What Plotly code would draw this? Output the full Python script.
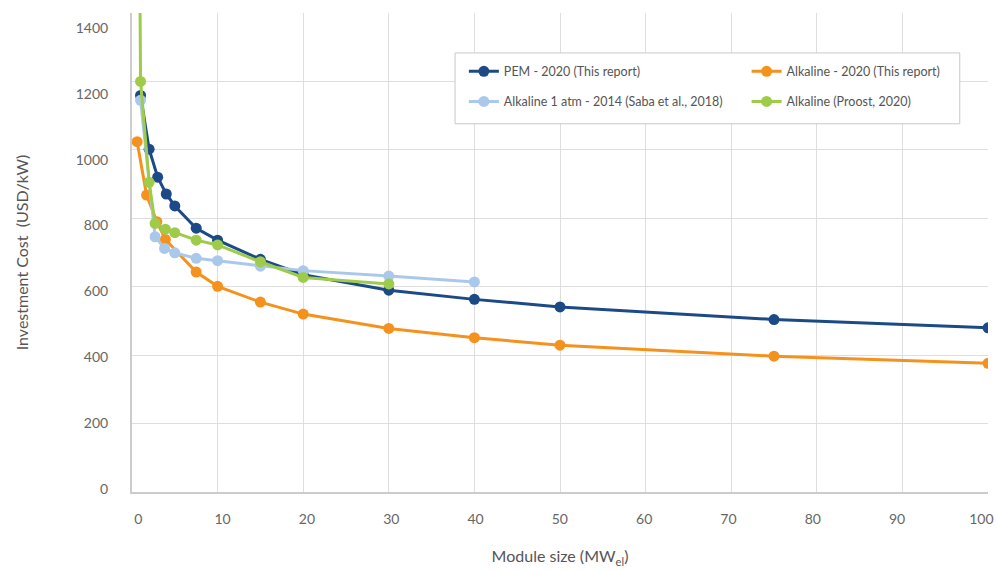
import plotly.graph_objects as go

# ---- data ----
pem_x = [1, 2, 3, 4, 5, 7.5, 10, 15, 20, 30, 40, 50, 75, 100]
pem_y = [1159, 1002, 920, 871, 836, 771, 736, 680, 635, 590, 563, 541, 504, 480]

alk_x = [0.6, 1.7, 2.9, 3.9, 7.5, 10, 15, 20, 30, 40, 50, 75, 100]
alk_y = [1024, 868, 790, 738, 643, 601, 555, 520, 478, 451, 429, 397, 376]

saba_x = [1, 2.7, 3.8, 5, 7.5, 10, 15, 20, 30, 40]
saba_y = [1145, 746, 712, 699, 683, 676, 660, 647, 631, 614]

proost_x = [0.5, 1, 2, 2.7, 3.9, 5, 7.5, 10, 15, 20, 30]
proost_y = [3000, 1200, 905, 785, 768, 758, 736, 722, 673, 627, 608]

names = [
    "PEM - 2020 (This report)",
    "Alkaline - 2020 (This report)",
    "Alkaline 1 atm - 2014 (Saba et al., 2018)",
    "Alkaline (Proost, 2020)",
]
colors = ["#1b4a86", "#f5921e", "#aac9ea", "#9fcb4b"]

x_ticks = list(range(0, 101, 10))
y_ticks = list(range(0, 1401, 200))

FONT = "Lato, 'Open Sans', sans-serif"
fig = go.Figure()

def add(x, y, name, color, legend):
    fig.add_trace(go.Scatter(
        x=x, y=y, name=name, mode="lines+markers",
        line=dict(color=color, width=3),
        marker=dict(color=color, size=11),
        legend=legend,
    ))

# drawing order: orange, PEM, light blue, green on top
add(alk_x, alk_y, names[1], colors[1], "legend2")
add(pem_x, pem_y, names[0], colors[0], "legend")
add(saba_x, saba_y, names[2], colors[2], "legend3")
add(proost_x, proost_y, names[3], colors[3], "legend4")

# invisible trace to activate the label axes
fig.add_trace(go.Scatter(x=[None], y=[None], xaxis="x2", yaxis="y2",
                         showlegend=False, hoverinfo="skip"))

grid = "#dedede"
fig.update_layout(
    width=997, height=570,
    margin=dict(l=132, r=9, t=13, b=78, autoexpand=False),
    paper_bgcolor="white", plot_bgcolor="white",
    font=dict(family=FONT, color="#5a5a5a"),
    xaxis=dict(range=[0, 100], tickvals=x_ticks, showticklabels=False,
               showgrid=True, gridcolor=grid, gridwidth=1, zeroline=False,
               showline=True, linecolor="#cccccc", linewidth=2,
               automargin=False),
    yaxis=dict(range=[0, 1400], tickvals=y_ticks, showticklabels=False,
               showgrid=True, gridcolor=grid, gridwidth=1, zeroline=False,
               showline=True, linecolor="#cccccc", linewidth=2,
               automargin=False),
    xaxis2=dict(overlaying="x", anchor="y", side="bottom",
                range=[-0.75, 100.78], tickvals=x_ticks,
                ticktext=[str(v) for v in x_ticks],
                showgrid=False, zeroline=False, showline=False,
                ticks="outside", ticklen=14, tickcolor="rgba(0,0,0,0)",
                tickfont=dict(size=14, color="#666666", family=FONT),
                automargin=False,
                title=dict(text="Module size (MW<sub>el</sub>)",
                           font=dict(size=16, color="#555555", family=FONT),
                           standoff=25)),
    yaxis2=dict(overlaying="y", anchor="x", side="left",
                range=[-10, 1445.7], tickvals=y_ticks,
                ticktext=[str(v) for v in y_ticks],
                showgrid=False, zeroline=False, showline=False,
                ticks="outside", ticklen=20, tickcolor="rgba(0,0,0,0)",
                tickfont=dict(size=14, color="#666666", family=FONT),
                automargin=False,
                title=dict(text="Investment Cost  (USD/kW)",
                           font=dict(size=16, color="#555555", family=FONT),
                           standoff=43)),
    shapes=[dict(type="rect", xref="paper", yref="paper",
                 x0=0.3774, x1=0.967, y0=0.7687, y1=0.9166,
                 fillcolor="white", line=dict(color="#c8c8c8", width=1),
                 layer="above")],
)

leg_common = dict(bgcolor="rgba(0,0,0,0)", borderwidth=0,
                  font=dict(size=12.5, color="#555555", family=FONT),
                  xanchor="left", yanchor="middle", itemwidth=30)
fig.update_layout(
    legend=dict(x=0.3877, y=0.8775, **leg_common),
    legend2=dict(x=0.718, y=0.8775, **leg_common),
    legend3=dict(x=0.3877, y=0.8147, **leg_common),
    legend4=dict(x=0.718, y=0.8147, **leg_common),
)

fig.write_html("out.html", config={"displayModeBar": False},
               post_script="document.body.style.margin='0';")
